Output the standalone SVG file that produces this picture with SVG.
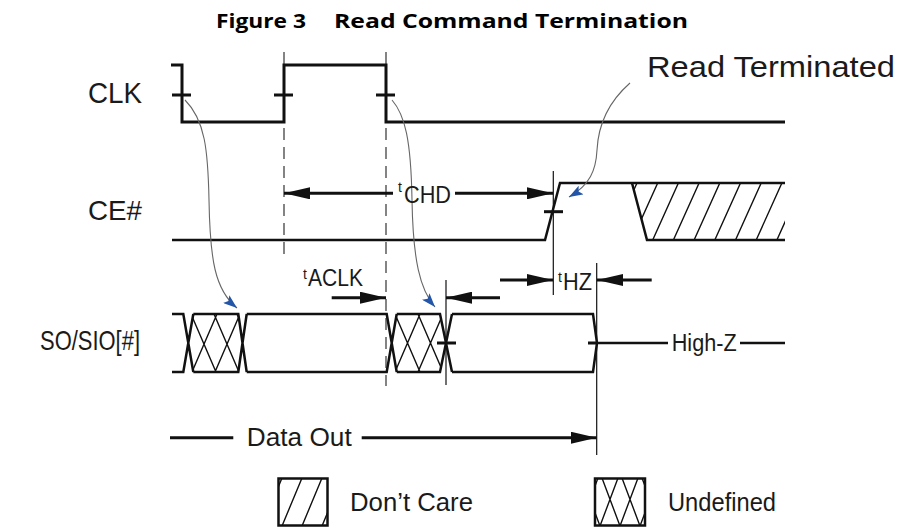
<svg xmlns="http://www.w3.org/2000/svg" width="905" height="527" viewBox="0 0 905 527">
<style>
.w{fill:none;stroke:#111;stroke-width:3;stroke-linejoin:miter}
.b{fill:none;stroke:#111;stroke-width:2.5}
.h{stroke:#111;stroke-width:1.4}
.d{stroke:#333;stroke-width:1.2;stroke-dasharray:12 7}
.v{stroke:#111;stroke-width:1.2}
.c{fill:none;stroke:#666;stroke-width:1.1}
.a{stroke:#111;stroke-width:3}
.lb{font-family:"Liberation Sans",Arial,Helvetica,sans-serif;fill:#1a1a1a}
.t{font-family:"Open Sans","Liberation Sans",sans-serif;font-weight:700;fill:#000;font-size:20px}
</style>
<defs>
<marker id="ah" markerUnits="userSpaceOnUse" markerWidth="26" markerHeight="12" refX="26" refY="6" orient="auto"><path d="M0,0 L26,6 L0,12 z" fill="#111"/></marker>
<marker id="bh" markerUnits="userSpaceOnUse" markerWidth="14" markerHeight="10" refX="14" refY="5" orient="auto"><path d="M0,0 L14,5 L0,10 L3,5 z" fill="#2356a8"/></marker>
<clipPath id="cU1"><polygon points="188.3,343 193.3,314 238.3,314 242.5,343 238.3,372 193.3,372"/></clipPath>
<clipPath id="cU2"><polygon points="391.7,343 396.7,314 440,314 446,343 440,372 396.7,372"/></clipPath>
<clipPath id="cDC"><polygon points="632,183 785,183 785,240 647,240"/></clipPath>
<clipPath id="cL1"><rect x="278.5" y="478.5" width="49" height="47"/></clipPath>
<clipPath id="cL2"><rect x="595" y="478.5" width="50" height="47"/></clipPath>
</defs>
<rect width="905" height="527" fill="#fff"/>

<g id="title">
<text class="t" x="216" y="28" textLength="90" lengthAdjust="spacingAndGlyphs">Figure 3</text>
<text class="t" x="334" y="28" textLength="354" lengthAdjust="spacingAndGlyphs">Read Command Termination</text>
</g>

<g id="guides">
<line class="d" x1="284" y1="52" x2="284" y2="258"/>
<line class="d" x1="386" y1="52" x2="386" y2="386"/>
<line class="v" x1="553.3" y1="171" x2="553.3" y2="295"/>
<line class="v" x1="446" y1="280" x2="446" y2="385"/>
<line class="v" x1="596.7" y1="263" x2="596.7" y2="455"/>
</g>

<g id="clk">
<text class="lb" x="88" y="103" font-size="29" textLength="54" lengthAdjust="spacingAndGlyphs">CLK</text>
<path class="w" d="M171,65 H182 V122 H284 V65 H386 V122 H785"/>
<path class="w" d="M172,95 H191 M274,95 H293 M376,95 H395"/>
</g>

<g id="ce">
<text class="lb" x="88" y="220" font-size="28" textLength="54" lengthAdjust="spacingAndGlyphs">CE#</text>
<path class="b" d="M172,240 H545 L560,183 H785"/>
<path class="b" d="M632,183 L647,240 H785"/>
<g clip-path="url(#cDC)">
<path class="h" d="M611.3,240 L637,183 M632,240 L657.7,183 M652.7,240 L678.4,183 M673.4,240 L699.1,183 M694.1,240 L719.8,183 M714.8,240 L740.5,183 M735.5,240 L761.2,183 M756.2,240 L781.9,183 M776.9,240 L802.6,183"/>
</g>
<path class="w" d="M544,211.7 H563"/>
</g>

<g id="so">
<text class="lb" x="40" y="350" font-size="28" textLength="100" lengthAdjust="spacingAndGlyphs">SO/SIO[#]</text>
<path class="b" d="M172,314 H183.3 L193.3,372 M172,372 H183.3 L193.3,314"/>
<path class="b" d="M193.3,314 H238.3 L246.7,372 M193.3,372 H238.3 L246.7,314"/>
<path class="b" d="M246.7,314 H386.7 L396.7,372 M246.7,372 H386.7 L396.7,314"/>
<path class="b" d="M396.7,314 H440 L452,372 M396.7,372 H440 L452,314"/>
<path class="b" d="M452,314 H593 L597,343 L593,372 H452"/>
<g clip-path="url(#cU1)">
<path class="h" d="M168,314 L193,372 M191,314 L216,372 M214,314 L239,372 M237,314 L262,372 M263,314 L238,372 M240,314 L215,372 M217,314 L192,372 M194,314 L169,372"/>
</g>
<g clip-path="url(#cU2)">
<path class="h" d="M372,314 L397,372 M395,314 L420,372 M418,314 L443,372 M441,314 L466,372 M466,314 L441,372 M443,314 L418,372 M420,314 L395,372 M397,314 L372,372"/>
</g>
<path class="w" d="M437,343 H456 M588,343 H597"/>
<path class="b" d="M597,343 H668 M740,343 H785"/>
<text class="lb" x="671.7" y="351" font-size="23" textLength="65" lengthAdjust="spacingAndGlyphs">High-Z</text>
</g>

<g id="connectors">
<line class="a" x1="393" y1="193.3" x2="284" y2="193.3" marker-end="url(#ah)"/>
<line class="a" x1="455" y1="193.3" x2="553" y2="193.3" marker-end="url(#ah)"/>
<line class="a" x1="331.7" y1="297.7" x2="386" y2="297.7" marker-end="url(#ah)"/>
<line class="a" x1="500" y1="297.7" x2="446" y2="297.7" marker-end="url(#ah)"/>
<line class="a" x1="500" y1="280" x2="553" y2="280" marker-end="url(#ah)"/>
<line class="a" x1="651.7" y1="280" x2="597" y2="280" marker-end="url(#ah)"/>
<line class="a" x1="170" y1="437.7" x2="233.3" y2="437.7"/>
<line class="a" x1="361.7" y1="437.7" x2="596.7" y2="437.7" marker-end="url(#ah)"/>
<path class="c" d="M185,100 C205,120 208,150 209,200 C210,260 215,290 237,308" marker-end="url(#bh)"/>
<path class="c" d="M392,100 C405,115 411,140 412,200 C413,260 420,290 435,307" marker-end="url(#bh)"/>
<path class="c" d="M630,83 C605,105 598,130 597,150 C596,170 590,185 569,197" marker-end="url(#bh)"/>
</g>

<g id="labels">
<text class="lb" x="647" y="77" font-size="30" textLength="248" lengthAdjust="spacingAndGlyphs">Read Terminated</text>
<text class="lb" x="398" y="192" font-size="14">t</text>
<text class="lb" x="404" y="203" font-size="24" textLength="47" lengthAdjust="spacingAndGlyphs">CHD</text>
<text class="lb" x="303" y="279" font-size="14">t</text>
<text class="lb" x="308" y="286" font-size="24" textLength="55" lengthAdjust="spacingAndGlyphs">ACLK</text>
<text class="lb" x="558" y="282" font-size="14">t</text>
<text class="lb" x="563" y="290" font-size="24" textLength="29" lengthAdjust="spacingAndGlyphs">HZ</text>
<text class="lb" x="246.7" y="446" font-size="26" textLength="105" lengthAdjust="spacingAndGlyphs">Data Out</text>
</g>

<g id="legend-dontcare">
<g clip-path="url(#cL1)">
<path class="h" d="M262,526 L282,478 M282,526 L302,478 M302,526 L322,478 M322,526 L342,478"/>
</g>
<rect x="278.5" y="478.5" width="49" height="47" fill="none" stroke="#111" stroke-width="2.5"/>
<text class="lb" x="350" y="511" font-size="26" textLength="123" lengthAdjust="spacingAndGlyphs">Don’t Care</text>
</g>

<g id="legend-undefined">
<g clip-path="url(#cL2)">
<path class="h" d="M582,478 L600,526 M602,478 L620,526 M622,478 L640,526 M642,478 L660,526 M658,478 L640,526 M638,478 L620,526 M618,478 L600,526 M598,478 L580,526"/>
</g>
<rect x="595" y="478.5" width="50" height="47" fill="none" stroke="#111" stroke-width="2.5"/>
<text class="lb" x="668" y="511" font-size="26" textLength="108" lengthAdjust="spacingAndGlyphs">Undefined</text>
</g>
</svg>
